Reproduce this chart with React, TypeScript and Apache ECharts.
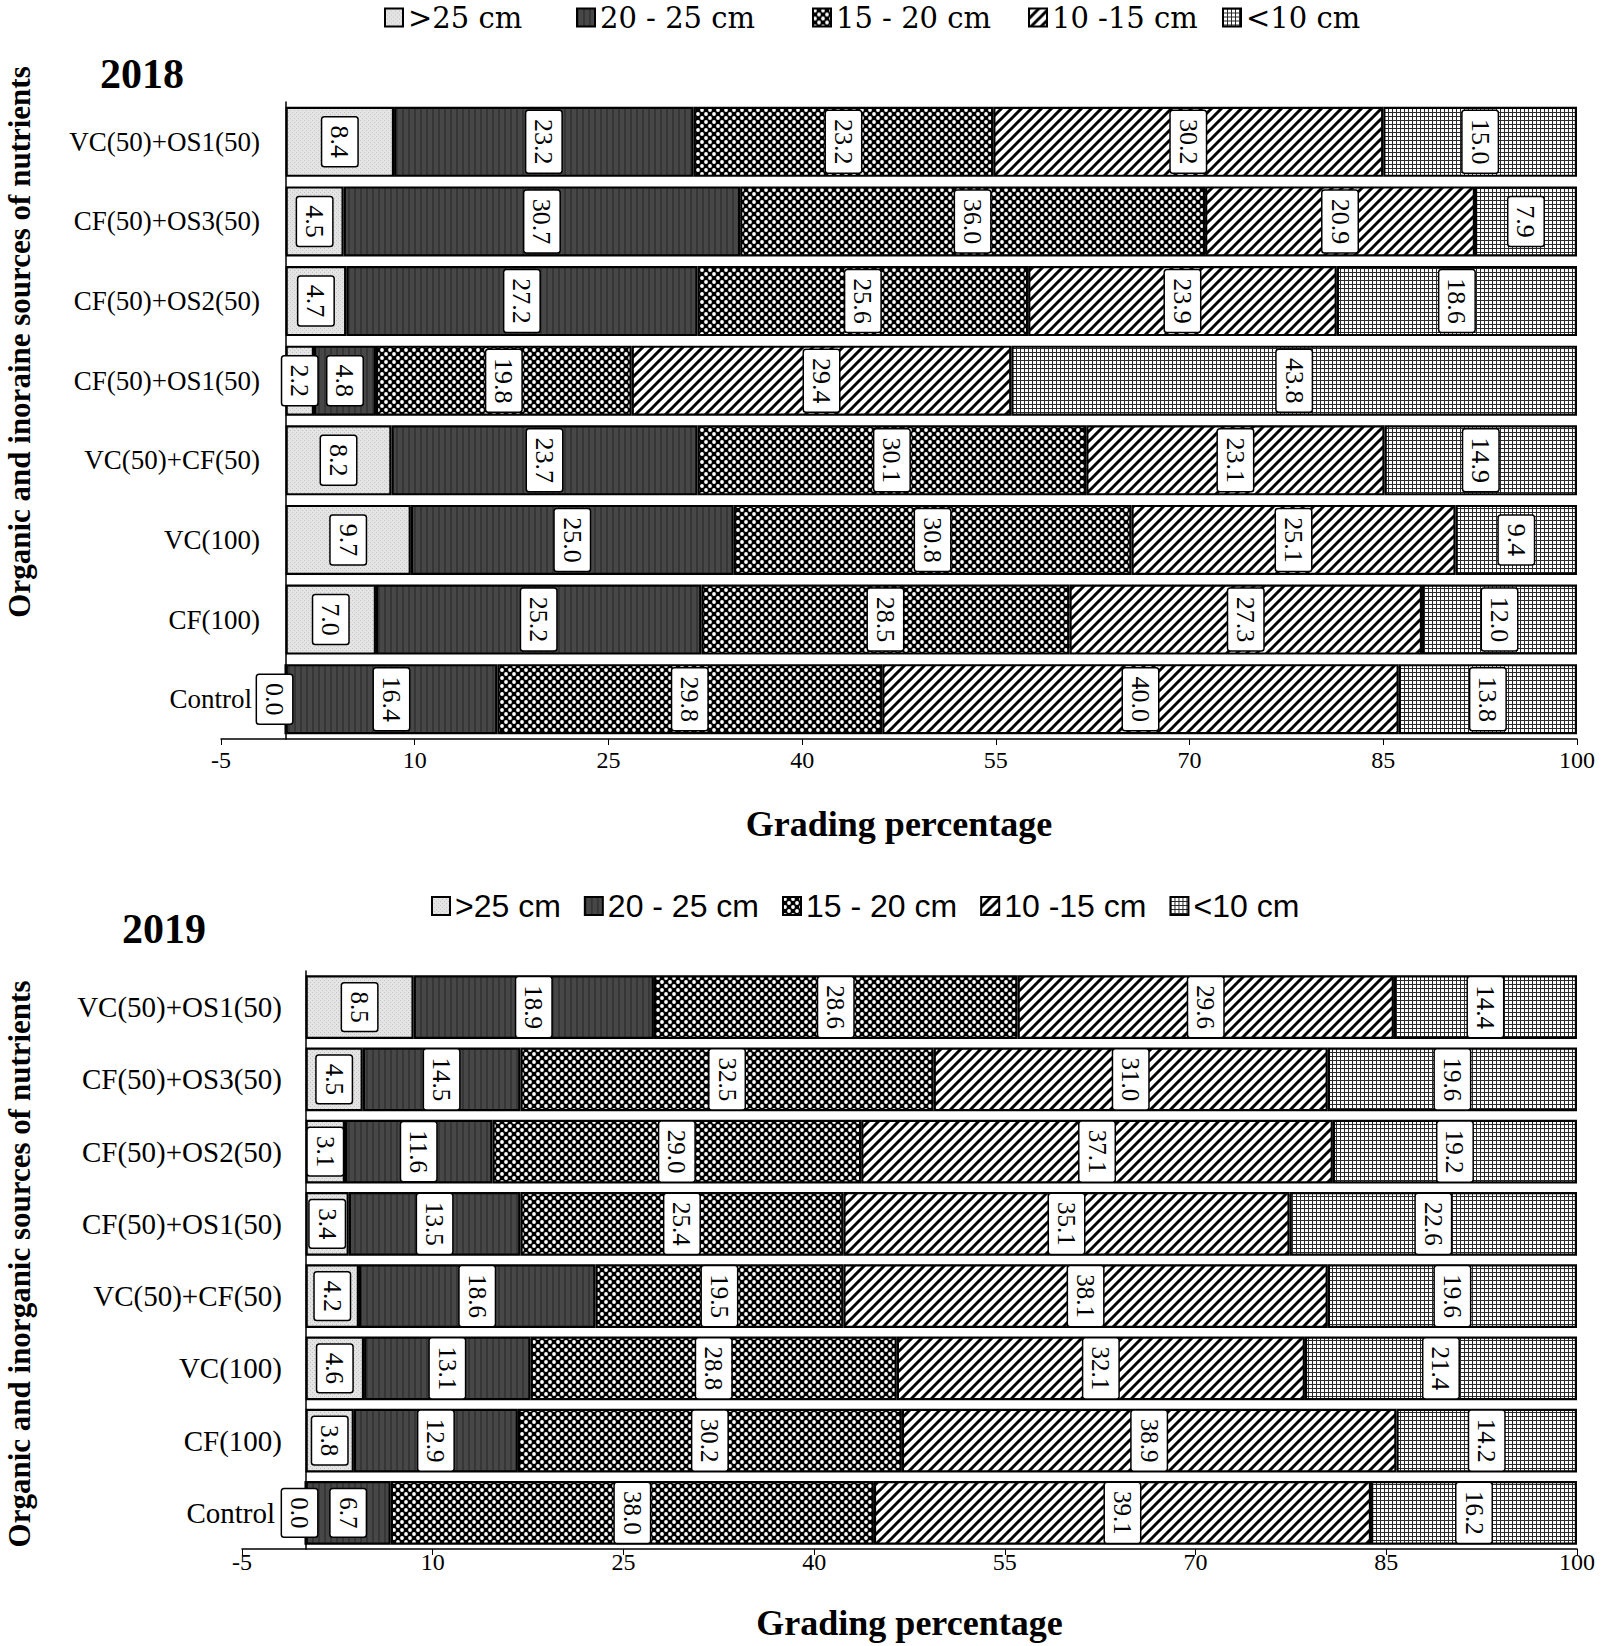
import React, { useEffect, useRef } from "react";
import * as echarts from "echarts";

const categories = [
  "VC(50)+OS1(50)",
  "CF(50)+OS3(50)",
  "CF(50)+OS2(50)",
  "CF(50)+OS1(50)",
  "VC(50)+CF(50)",
  "VC(100)",
  "CF(100)",
  "Control",
];
const seriesNames = [">25 cm", "20 - 25 cm", "15 - 20 cm", "10 -15 cm", "<10 cm"];
const xTicks = [-5, 10, 25, 40, 55, 70, 85, 100];

// 2018 (top panel)
const y2018_gt25 = [8.4, 4.5, 4.7, 2.2, 8.2, 9.7, 7.0, 0.0];
const y2018_20to25 = [23.2, 30.7, 27.2, 4.8, 23.7, 25.0, 25.2, 16.4];
const y2018_15to20 = [23.2, 36.0, 25.6, 19.8, 30.1, 30.8, 28.5, 29.8];
const y2018_10to15 = [30.2, 20.9, 23.9, 29.4, 23.1, 25.1, 27.3, 40.0];
const y2018_lt10 = [15.0, 7.9, 18.6, 43.8, 14.9, 9.4, 12.0, 13.8];

// 2019 (bottom panel)
const y2019_gt25 = [8.5, 4.5, 3.1, 3.4, 4.2, 4.6, 3.8, 0.0];
// drawn bar width (the printed label of CF(50)+OS3(50) reads 14.5)
const y2019_20to25 = [18.9, 12.4, 11.6, 13.5, 18.6, 13.1, 12.9, 6.7];
const y2019_20to25_printed = [18.9, 14.5, 11.6, 13.5, 18.6, 13.1, 12.9, 6.7];
const y2019_15to20 = [28.6, 32.5, 29.0, 25.4, 19.5, 28.8, 30.2, 38.0];
const y2019_10to15 = [29.6, 31.0, 37.1, 35.1, 38.1, 32.1, 38.9, 39.1];
const y2019_lt10 = [14.4, 19.6, 19.2, 22.6, 19.6, 21.4, 14.2, 16.2];

function tile(w: number, h: number, draw: (ctx: CanvasRenderingContext2D) => void) {
  const c = document.createElement("canvas");
  c.width = w;
  c.height = h;
  const ctx = c.getContext("2d") as CanvasRenderingContext2D;
  draw(ctx);
  return { image: c.toDataURL(), repeat: "repeat", imageWidth: w, imageHeight: h };
}

function makePatterns() {
  const light = tile(4, 4, (ctx) => {
    ctx.fillStyle = "#e4e4e4";
    ctx.fillRect(0, 0, 4, 4);
    ctx.fillStyle = "#c4c4c4";
    ctx.fillRect(0, 0, 1, 1);
    ctx.fillRect(2, 2, 1, 1);
  });
  const dark = tile(6, 6, (ctx) => {
    ctx.fillStyle = "#474747";
    ctx.fillRect(0, 0, 6, 6);
    ctx.fillStyle = "#363636";
    ctx.fillRect(0, 0, 2, 6);
  });
  const dots = tile(8, 8, (ctx) => {
    ctx.fillStyle = "#000";
    ctx.fillRect(0, 0, 8, 8);
    ctx.fillStyle = "#fff";
    ctx.beginPath();
    ctx.arc(2, 2, 1.9, 0, Math.PI * 2);
    ctx.fill();
    ctx.beginPath();
    ctx.arc(6, 6, 1.9, 0, Math.PI * 2);
    ctx.fill();
  });
  const diag = tile(10, 10, (ctx) => {
    ctx.fillStyle = "#fff";
    ctx.fillRect(0, 0, 10, 10);
    ctx.strokeStyle = "#000";
    ctx.lineWidth = 3;
    ctx.beginPath();
    ctx.moveTo(-2, 12);
    ctx.lineTo(12, -2);
    ctx.moveTo(-7, 7);
    ctx.lineTo(7, -7);
    ctx.moveTo(3, 17);
    ctx.lineTo(17, 3);
    ctx.stroke();
  });
  const grid = tile(4, 4, (ctx) => {
    ctx.fillStyle = "#fff";
    ctx.fillRect(0, 0, 4, 4);
    ctx.fillStyle = "#2a2a2a";
    ctx.fillRect(0, 0, 4, 1);
    ctx.fillRect(0, 0, 1, 4);
  });
  return [light, dark, dots, diag, grid];
}

const SERIF = "Liberation Serif";
const SANS = "Liberation Sans";

// legend item positions of the top panel (left edge of each icon)
const legendTopLefts = [384, 576, 812, 1028, 1222];

export default function App() {
  const ref = useRef<HTMLDivElement>(null);

  useEffect(() => {
    if (!ref.current) return;
    const chart = echarts.init(ref.current, null, { renderer: "svg" });
    const patterns = makePatterns();

    const panels = [
      {
        values: [y2018_gt25, y2018_20to25, y2018_15to20, y2018_10to15, y2018_lt10],
        printed: [y2018_gt25, y2018_20to25, y2018_15to20, y2018_10to15, y2018_lt10],
        labelSize: 26,
        zeroShift: 11,
      },
      {
        values: [y2019_gt25, y2019_20to25, y2019_15to20, y2019_10to15, y2019_lt10],
        printed: [y2019_gt25, y2019_20to25_printed, y2019_15to20, y2019_10to15, y2019_lt10],
        labelSize: 25,
        zeroShift: 6,
      },
    ];

    const series: any[] = [];
    panels.forEach((p, pi) => {
      seriesNames.forEach((name, si) => {
        const printed = p.printed[si];
        series.push({
          type: "bar",
          name,
          stack: "s" + pi,
          xAxisIndex: pi,
          yAxisIndex: pi,
          barCategoryGap: "12%",
          itemStyle: { color: patterns[si], borderColor: "#000", borderWidth: 2.2 },
          label: {
            show: true,
            position: "inside",
            rotate: -90,
            formatter: (prm: any) => printed[prm.dataIndex].toFixed(1),
            fontFamily: SERIF,
            fontSize: p.labelSize,
            color: "#000",
            backgroundColor: "#fff",
            borderColor: "#000",
            borderWidth: 1.5,
            borderRadius: 2,
            padding: [4, 8],
            lineHeight: 27,
          },
          data: p.values[si].map((v) =>
            v === 0 ? { value: v, label: { offset: [0, p.zeroShift] } } : v
          ),
        });
      });
    });

    const xAxisBase = (gi: number, nameGap: number, labelMargin: number) => ({
      type: "value",
      gridIndex: gi,
      min: -5,
      max: 100,
      splitLine: { show: false },
      axisLine: { show: true, lineStyle: { color: "#000", width: 1.5 } },
      axisTick: { show: true, length: 6, customValues: xTicks, lineStyle: { color: "#000" } },
      axisLabel: {
        customValues: xTicks,
        fontFamily: SERIF,
        fontSize: 24,
        color: "#000",
        margin: labelMargin,
      },
      name: "Grading percentage",
      nameLocation: "middle",
      nameGap,
      nameTextStyle: { fontFamily: SERIF, fontWeight: "bold", fontSize: 36, color: "#000" },
    });

    const yAxisBase = (gi: number, fontSize: number, margin: number, ctrlPad: number) => ({
      type: "category",
      gridIndex: gi,
      data: categories.map((c) =>
        c === "Control" ? { value: c, textStyle: { padding: [0, ctrlPad, 0, 0] } } : c
      ),
      inverse: true,
      axisTick: { show: false },
      axisLine: { show: true, lineStyle: { color: "#000", width: 1.5 } },
      axisLabel: { fontFamily: SERIF, fontSize, color: "#000", margin },
    });

    const legendTop = seriesNames.map((n, i) => ({
      data: [n],
      left: legendTopLefts[i],
      top: 3,
      padding: 0,
      icon: "rect",
      itemWidth: 18,
      itemHeight: 18,
      textStyle: { fontFamily: "DejaVu Serif", fontSize: 29, color: "#000" },
    }));

    chart.setOption({
      animation: false,
      backgroundColor: "#fff",
      title: [
        {
          text: "2018",
          left: 100,
          top: 53,
          padding: 0,
          textStyle: { fontFamily: SERIF, fontWeight: "bold", fontSize: 42, color: "#000" },
        },
        {
          text: "2019",
          left: 122,
          top: 908,
          padding: 0,
          textStyle: { fontFamily: SERIF, fontWeight: "bold", fontSize: 42, color: "#000" },
        },
      ],
      legend: [
        ...legendTop,
        {
          data: seriesNames,
          left: 431,
          top: 890,
          padding: 0,
          icon: "rect",
          itemWidth: 18,
          itemHeight: 18,
          itemGap: 23,
          textStyle: { fontFamily: SANS, fontSize: 32, color: "#000" },
        },
      ],
      grid: [
        { left: 221, right: 28, top: 102, height: 637, containLabel: false },
        { left: 242, right: 28, top: 971, height: 578, containLabel: false },
      ],
      xAxis: [xAxisBase(0, 67, 9), xAxisBase(1, 56, 1)],
      yAxis: [yAxisBase(0, 27, -39, 8), yAxisBase(1, 29, -40, 7)],
      graphic: [
        {
          type: "text",
          x: 19,
          y: 342,
          rotation: Math.PI / 2,
          style: {
            text: "Organic and inoraine sources of nutrients",
            font: 'bold 31px "Liberation Serif"',
            fill: "#000",
            align: "center",
            verticalAlign: "middle",
          },
        },
        {
          type: "text",
          x: 19,
          y: 1264,
          rotation: Math.PI / 2,
          style: {
            text: "Organic and inorganic sources of nutrients",
            font: 'bold 31px "Liberation Serif"',
            fill: "#000",
            align: "center",
            verticalAlign: "middle",
          },
        },
      ],
      series,
    });

    return () => chart.dispose();
  }, []);

  return (
    <div
      ref={ref}
      style={{ position: "absolute", left: 0, top: 0, width: 1605, height: 1646, background: "#fff" }}
    />
  );
}
